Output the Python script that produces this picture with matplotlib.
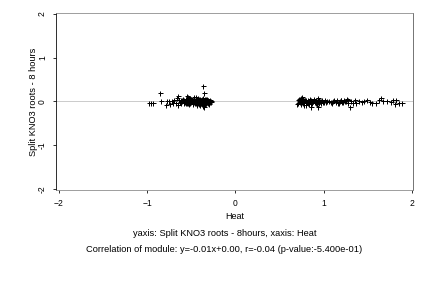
import matplotlib
matplotlib.use("Agg")
import matplotlib.pyplot as plt

plt.rcParams["font.family"] = ["Liberation Sans", "DejaVu Sans"]

# left cluster (Heat < 0)
left_x = [-0.98, -0.95, -0.93, -0.85, -0.84, -0.79, -0.77, -0.75, -0.74, -0.72,
          -0.71, -0.69, -0.67, -0.66, -0.65, -0.65, -0.64, -0.63, -0.62, -0.61,
          -0.60, -0.59, -0.58, -0.57, -0.56, -0.56, -0.55, -0.54, -0.54, -0.53,
          -0.52, -0.52, -0.51, -0.50, -0.50, -0.49, -0.48, -0.48, -0.47, -0.46,
          -0.46, -0.45, -0.45, -0.44, -0.44, -0.43, -0.43, -0.42, -0.42, -0.41,
          -0.41, -0.40, -0.40, -0.39, -0.39, -0.38, -0.38, -0.37, -0.37, -0.37,
          -0.36, -0.36, -0.36, -0.35, -0.35, -0.35, -0.34, -0.34, -0.34, -0.33,
          -0.33, -0.33, -0.32, -0.32, -0.31, -0.31, -0.30, -0.30, -0.29, -0.29,
          -0.28, -0.28, -0.37, -0.36, -0.55, -0.47,
          -0.61, -0.58, -0.55, -0.53, -0.51, -0.49, -0.47, -0.45, -0.43, -0.41,
          -0.39, -0.37, -0.35, -0.33, -0.31, -0.29, -0.60, -0.57, -0.52, -0.48,
          -0.44, -0.40, -0.38, -0.34, -0.32, -0.30, -0.42, -0.46, -0.50, -0.36]
left_y = [-0.04, -0.03, -0.03, 0.18, 0.00, -0.09, 0.00, 0.01, -0.07, 0.00,
          -0.03, 0.02, -0.05, 0.07, 0.13, -0.09, 0.02, -0.02, 0.03, -0.04,
          0.01, 0.05, -0.03, 0.00, 0.06, -0.05, 0.02, 0.10, -0.03, 0.04,
          -0.06, 0.01, 0.08, -0.02, 0.05, 0.00, -0.07, 0.03, 0.06, -0.04,
          0.01, 0.09, -0.05, 0.02, -0.08, 0.04, -0.02, 0.07, 0.00, -0.06,
          0.03, 0.05, -0.09, 0.01, -0.03, 0.06, -0.05, 0.02, -0.10, 0.08,
          0.00, -0.07, 0.04, 0.03, -0.04, -0.12, 0.01, 0.06, -0.06, 0.02,
          -0.03, 0.05, -0.01, 0.04, -0.05, 0.02, 0.00, -0.03, 0.03, -0.02,
          0.01, -0.01, 0.35, 0.18, 0.12, 0.10,
          -0.01, 0.02, -0.04, 0.01, -0.03, 0.03, -0.02, 0.00, 0.02, -0.03,
          0.04, -0.04, 0.01, -0.02, 0.03, 0.00, 0.03, -0.01, 0.01, -0.04,
          0.03, -0.02, 0.00, -0.03, 0.06, -0.06, -0.03, 0.04, 0.02, -0.08]

# right cluster (Heat > 0)
right_x = [0.70, 0.71, 0.71, 0.72, 0.73, 0.73, 0.74, 0.75, 0.75, 0.76,
           0.77, 0.77, 0.78, 0.79, 0.80, 0.80, 0.81, 0.82, 0.83, 0.84,
           0.85, 0.86, 0.86, 0.87, 0.88, 0.89, 0.90, 0.91, 0.92, 0.93,
           0.94, 0.95, 0.95, 0.96, 0.97, 0.98, 0.99, 1.01, 1.03, 1.06,
           1.09, 1.12, 1.14, 1.15, 1.17, 1.18, 1.20, 1.21, 1.23, 1.24,
           1.26, 1.28, 1.30, 1.31, 1.33, 1.35, 1.37, 1.40, 1.43, 1.46,
           1.49, 1.52, 1.55, 1.59, 1.62, 1.65, 1.67, 1.72, 1.76, 1.78,
           1.81, 1.82, 1.85, 1.88, 0.86, 0.94, 0.74, 0.78,
           0.72, 0.76, 0.79, 0.82, 0.84, 0.88, 0.91, 0.93, 0.97, 1.00,
           1.04, 1.08, 1.11, 1.16, 1.19, 1.22, 1.25, 1.27]
right_y = [-0.06, 0.02, -0.03, 0.05, -0.02, 0.01, -0.07, 0.03, 0.10, -0.04,
           0.00, 0.06, -0.05, 0.02, -0.08, 0.04, -0.01, 0.03, -0.06, 0.01,
           0.05, -0.03, 0.02, -0.05, 0.00, 0.06, -0.02, 0.03, -0.06, 0.01,
           0.07, -0.04, 0.02, 0.00, -0.03, 0.03, -0.01, 0.02, -0.02, 0.00,
           -0.03, 0.02, -0.01, 0.03, -0.04, 0.01, 0.03, -0.02, 0.04, 0.00,
           0.06, -0.03, -0.13, 0.01, -0.03, 0.02, -0.04, 0.00, -0.02, 0.01,
           0.04, -0.02, -0.05, -0.05, 0.02, 0.07, 0.00, 0.01, -0.02, 0.02,
           -0.07, 0.02, -0.03, -0.04, -0.14, -0.14, 0.08, -0.09,
           0.00, -0.02, 0.03, -0.03, 0.02, 0.01, -0.04, 0.04, 0.00, -0.01,
           0.01, -0.02, 0.01, -0.03, 0.02, -0.01, 0.00, 0.03]

slope, intercept = -0.01, 0.00
xticks = [-2, -1, 0, 1, 2]
yticks = [-2, -1, 0, 1, 2]

fig = plt.figure(figsize=(6, 4), dpi=72)
ax = fig.add_axes([56 / 432, 1 - 190 / 288, 357 / 432, 177 / 288])

ax.axhline(intercept, color="#cccccc", lw=1.0, zorder=1)
ax.scatter(left_x + right_x, left_y + right_y, marker="+", color="black",
           s=25, linewidths=1.0, zorder=2)

ax.set_xlim(-2.03, 2.01)
ax.set_ylim(-2.03, 2.02)
ax.set_xticks(xticks)
ax.set_yticks(yticks)
ax.set_yticklabels([str(t) for t in yticks], rotation=90, va="center")
ax.tick_params(labelsize=8.5, length=3, width=0.8, pad=6)

for side in ["top", "right", "bottom"]:
    ax.spines[side].set_color("#888888")
ax.spines["right"].set_color("#555555")
ax.spines["left"].set_color("black")

ax.set_xlabel("Heat", fontsize=9, labelpad=4)
ax.set_ylabel("Split KNO3 roots - 8 hours", fontsize=9.3, labelpad=0)

fig.text(224.5 / 432, 1 - 233 / 288, "yaxis: Split KNO3 roots - 8hours, xaxis: Heat",
         ha="center", va="center", fontsize=9.3)
fig.text(224.5 / 432, 1 - 249.5 / 288,
         "Correlation of module: y=-0.01x+0.00, r=-0.04 (p-value:-5.400e-01)",
         ha="center", va="center", fontsize=9.3)

fig.savefig("out.png", dpi=72)
